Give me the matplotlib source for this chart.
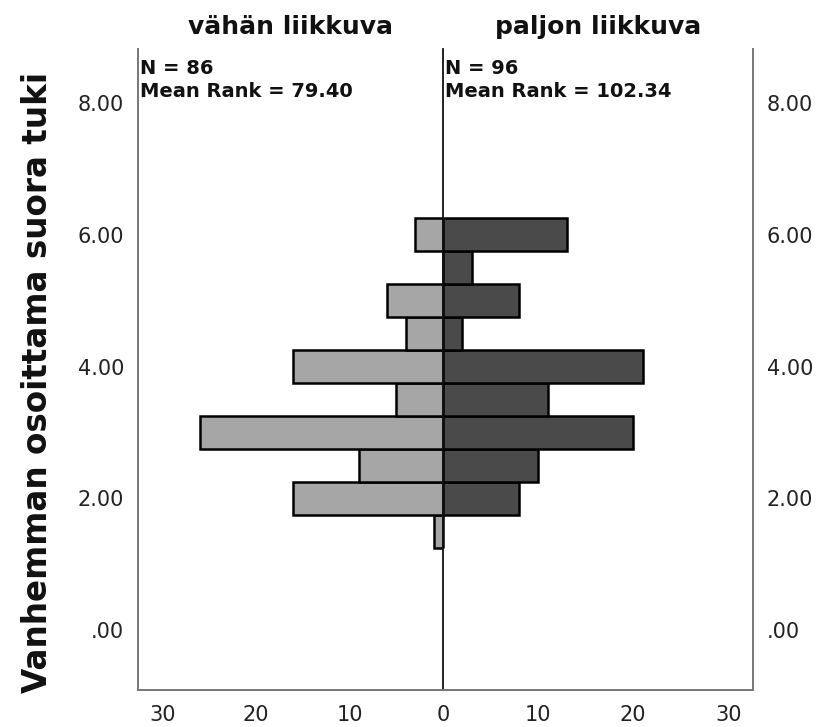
import matplotlib
matplotlib.use("Agg")
import matplotlib.pyplot as plt

# Data
bin_centers = [1.5, 2.0, 2.5, 3.0, 3.5, 4.0, 4.5, 5.0, 5.5, 6.0]
low_counts = [1, 16, 9, 26, 5, 16, 4, 6, 0, 3]      # vähän liikkuva
high_counts = [0, 8, 10, 20, 11, 21, 2, 8, 3, 13]   # paljon liikkuva
group_titles = ["vähän liikkuva", "paljon liikkuva"]
group_stats = ["N = 86\nMean Rank = 79.40", "N = 96\nMean Rank = 102.34"]
ytick_vals = [0, 2, 4, 6, 8]
ytick_labels = [".00", "2.00", "4.00", "6.00", "8.00"]
xtick_vals = [0, 10, 20, 30]
ylabel = "Vanhemman osoittama suora tuki"

W, H = 819, 727
fig = plt.figure(figsize=(W / 100, H / 100), dpi=100)

def fx(px):
    return px / W

def fy(py):
    return 1 - py / H

top, bot = 49, 690
axL = fig.add_axes([fx(138), fy(bot), fx(443 - 138), fy(top) - fy(bot)])
axR = fig.add_axes([fx(443), fy(bot), fx(753 - 443), fy(top) - fy(bot)])

xmax = 32.6
ylim = (-0.91, 8.82)
spine_col = "#777777"
tick_col = "#222222"

for ax, counts, col in [(axL, low_counts, "#a6a6a6"), (axR, high_counts, "#4a4a4a")]:
    ax.barh(bin_centers, counts, height=0.5, color=col, edgecolor="black", linewidth=1.8, zorder=2)
    ax.set_ylim(*ylim)
    ax.set_xticks(xtick_vals)
    ax.tick_params(axis="both", length=0, labelsize=15, colors=tick_col)
    ax.tick_params(axis="x", pad=11)
    ax.spines["top"].set_visible(False)
    for s in ["left", "right", "bottom"]:
        ax.spines[s].set_color(spine_col)
        ax.spines[s].set_linewidth(1.4)

axL.set_xlim(xmax, 0)
axR.set_xlim(0, xmax)
axL.spines["right"].set_visible(False)
axR.spines["right"].set_visible(True)
axR.spines["left"].set_color("#111111")
axR.spines["left"].set_linewidth(1.3)

axL.set_xticklabels([str(v) for v in xtick_vals])
axR.set_xticklabels([""] + [str(v) for v in xtick_vals[1:]])

axL.set_yticks(ytick_vals)
axL.set_yticklabels(ytick_labels)
axL.tick_params(axis="y", pad=10)
axR.set_yticks(ytick_vals)
axR.yaxis.tick_right()
axR.set_yticklabels(ytick_labels)
axR.tick_params(axis="y", pad=10)

for ax, title, stats in [(axL, group_titles[0], group_stats[0]), (axR, group_titles[1], group_stats[1])]:
    ax.set_title(title, fontsize=18, fontweight="bold", pad=11, color="#111111")
    ax.text(0.008, 0.985, stats, transform=ax.transAxes, ha="left", va="top",
            fontsize=14, fontweight="bold", linespacing=1.3, color="#111111")

fig.text(fx(38), fy(382), ylabel, rotation=90, ha="center", va="center",
         fontsize=23.5, fontweight="bold", color="#111111")

fig.savefig("out.png", dpi=100)
